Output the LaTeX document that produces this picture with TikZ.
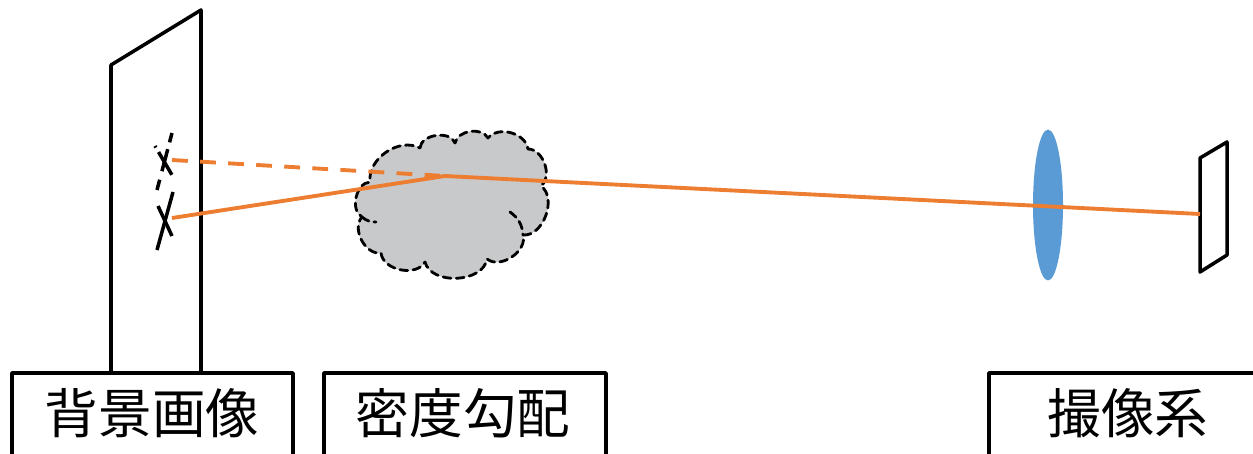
\documentclass[tikz,border=0pt]{standalone}
\usepackage{fontspec}
\newfontfamily\cjk{Noto Sans CJK JP}
\usetikzlibrary{shapes.geometric}
\definecolor{rayorange}{HTML}{ED7D31}
\definecolor{lensblue}{HTML}{5B9BD5}
\definecolor{smokegray}{HTML}{C8C9CB}

\begin{document}
\begin{tikzpicture}[
		x=0.02cm,
		y=-0.02cm,
		line cap=round,
		line join=round,
		frame/.style={line width=2pt,black},
		crossmark/.style={line width=2pt,black,line cap=butt},
		ray/.style={line width=2.2pt,draw=rayorange,line cap=butt},
		puffline/.style={line width=1.6pt,black,dash pattern=on 4.5pt off 3pt},
		tag/.style={font=\cjk\fontsize{30.5}{32}\selectfont,inner sep=0pt}
	]
	\useasboundingbox (0,0) rectangle (1253,453);
	
	% Background panel
	\draw[frame] (111,373) -- (111,65) -- (201,10) -- (201,373);
	
	% Marker on the panel and its apparent position
	\draw[crossmark] (157,250) -- (173,192);
	\draw[crossmark] (158,206) -- (172,236);
	\draw[crossmark,dash pattern=on 5.5pt off 4pt on 13pt off 5pt on 7pt off 20pt] (172,133) -- (157,190);
	\draw[crossmark,dash pattern=on 1pt off 3pt on 15pt off 20pt] (155,146) -- (172,175);
	
	% Density gradient region, puff by puff
	\coordinate (n1) at (420,148);
	\coordinate (n2) at (455,143);
	\coordinate (n3) at (488,138);
	\coordinate (n4) at (528,149);
	\coordinate (n5) at (541,186);
	\coordinate (n6) at (523,235);
	\coordinate (n7) at (487,259);
	\coordinate (n8) at (425,262);
	\coordinate (n9) at (381,253);
	\coordinate (n10) at (362,217);
	\coordinate (n11) at (370,182);
	\path[fill=smokegray,postaction={draw,puffline}]
	(n1) to[bend left=78] (n2) to[bend left=70] (n3) to[bend left=66] (n4)
	to[bend left=70] (n5) to[bend left=74] (n6) to[bend left=72] (n7)
	to[bend left=78] (n8) to[bend left=72] (n9) to[bend left=70] (n10)
	to[bend left=74] (n11) to[bend left=62] (n1) -- cycle;
	\draw[puffline] (510,212) to[bend left=25] (n6);
	\draw[puffline] (n10) to[bend right=20] (376,222);
	
	% Lens and sensor
	\node[ellipse,fill=lensblue,minimum width=0.6cm,minimum height=3.02cm,inner sep=0pt] (lens) at (1048,205) {};
	\draw[frame] (1200,158) -- (1227,142) -- (1227,255) -- (1200,272) -- cycle;
	
	% Ray points
	\coordinate (ghost) at (172,160);
	\coordinate (spot) at (172,218);
	\coordinate (bend) at (445,176);
	\coordinate (hit) at (1200,214);
	
	% Rays
	\draw[ray,dash pattern=on 9pt off 7pt] (ghost) -- (bend);
	\draw[ray] (spot) -- (bend) -- (hit);
	
	% Label boxes
	\draw[frame] (12,460) -- (12,373) -- (293,373) -- (293,460);
	\draw[frame] (324,460) -- (324,373) -- (606,373) -- (606,460);
	\draw[frame] (989,460) -- (989,373) -- (1260,373);
	
	\node[tag] (bglabel) at (152,413) {背景画像};
	\node[tag] (smokelabel) at (463,413) {密度勾配};
	\node[tag] (camlabel) at (1128,413) {撮像系};
	
\end{tikzpicture}
\end{document}
